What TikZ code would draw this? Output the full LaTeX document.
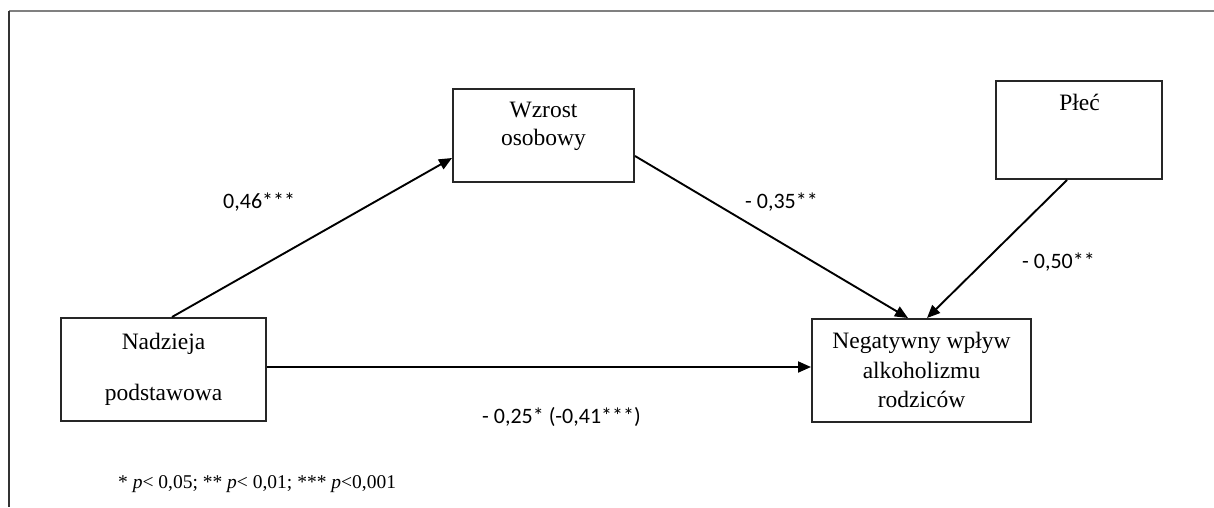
\documentclass[tikz,border=0pt]{standalone}
\usepackage{fontspec}
\setmainfont{Liberation Serif}
\newfontfamily\labfont{Carlito}
\usetikzlibrary{arrows.meta,calc}
\begin{document}
\begin{tikzpicture}[x=1pt,y=-1pt,
  box/.style={draw=black!85,line width=2pt,inner sep=0pt,fill=none},
  boxtext/.style={font=\fontsize{23.5}{29.5}\selectfont,align=center,inner sep=0pt},
  coef/.style={font=\labfont\fontsize{22}{26}\selectfont,anchor=base west,inner sep=0pt},
  arr/.style={line width=1.9pt,-{Triangle[length=13pt,width=11pt]}}]
\useasboundingbox (0,0) rectangle (1214,507);
\fill[white] (0,0) rectangle (1214,507);
% frame
\draw[black!50,line width=2pt] (9,11) -- (1214,11);
\draw[black!80,line width=1.8pt] (9,11) -- (9,507);
% boxes
\node[box,minimum width=205pt,minimum height=103pt] (nad) at (163.5,369.5) {};
\node[box,minimum width=181pt,minimum height=93pt] (wz) at (543.5,135.5) {};
\node[box,minimum width=166pt,minimum height=98pt] (pl) at (1079,130) {};
\node[box,minimum width=219pt,minimum height=103pt] (neg) at (921.5,370.5) {};
% box texts
\node[boxtext,anchor=base] (nadt1) at (163.5,349) {Nadzieja};
\node[boxtext,anchor=base] (nadt2) at (163.5,400) {podstawowa};
\node[boxtext,anchor=base] (wzt1) at (543.5,117) {Wzrost};
\node[boxtext,anchor=base] (wzt2) at (543.5,145) {osobowy};
\node[boxtext,anchor=base] (plt) at (1079.5,110) {Płeć};
\node[boxtext,anchor=base] (negt1) at (921.5,348) {Negatywny wpływ};
\node[boxtext,anchor=base] (negt2) at (921.5,378) {alkoholizmu};
\node[boxtext,anchor=base] (negt3) at (921.5,407) {rodziców};
% connectors
\draw[arr] ([xshift=8.5pt]nad.north) -- ([yshift=-22.5pt]wz.west);
\draw[arr] ([yshift=-20.5pt]wz.east) -- ([xshift=-13.5pt]neg.north);
\draw[arr] ([xshift=-12pt]pl.south) -- ([xshift=5.5pt]neg.north);
\draw[arr] ([yshift=2.5pt]nad.east) -- ([yshift=2.5pt]nad.east -| neg.west);
% coefficients
\node[coef] (c1) at (223,208) {0,46***};
\node[coef] (c2) at (745,208) {- 0,35**};
\node[coef] (c3) at (1022,268) {- 0,50**};
\node[coef] (c4) at (482,423) {- 0,25* (-0,41***)};
% footnote
\node[anchor=base west,inner sep=0pt,font=\fontsize{19.5}{24}\selectfont] (fn) at (118,488) {* \textit{p}< 0,05; ** \textit{p}< 0,01; *** \textit{p}<0,001};
\end{tikzpicture}
\end{document}
